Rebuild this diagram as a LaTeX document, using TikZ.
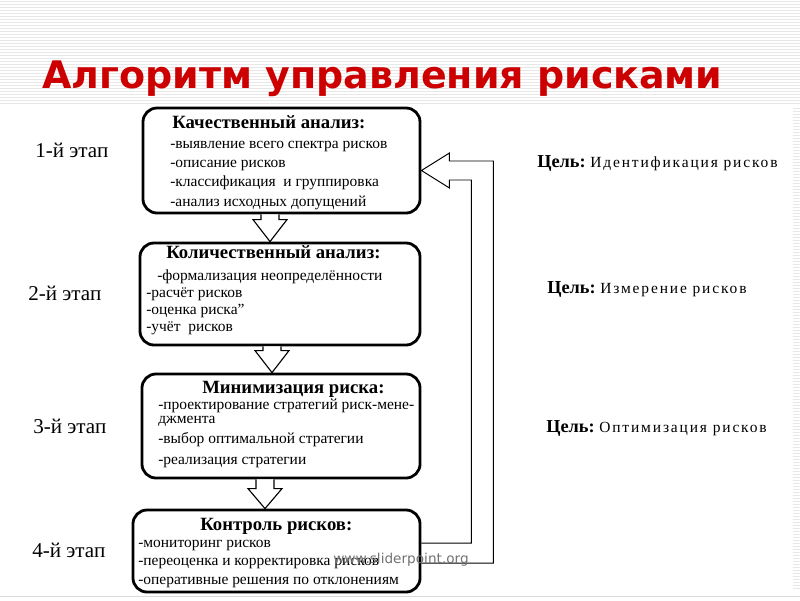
\documentclass[tikz,border=0pt]{standalone}
\usepackage{fontspec}
\setmainfont{Liberation Serif}
\newfontfamily\titlefont{DejaVu Sans}
\newfontfamily\goalfont[LetterSpace=12]{Liberation Serif}
\newfontfamily\wmfont{DejaVu Sans}
\usetikzlibrary{calc}
\definecolor{titlered}{RGB}{204,0,0}

\tikzset{
  stagebox/.style={draw, line width=2pt, rounded corners=10pt, inner sep=0pt},
  boxhead/.style={font=\bfseries\fontsize{13.3}{15}\selectfont, anchor=base west, inner sep=0pt},
  boxitem/.style={font=\fontsize{11}{12}\selectfont, anchor=base west, inner sep=0pt},
  stagelabel/.style={font=\fontsize{15}{17}\selectfont, anchor=base west, inner sep=0pt},
  goal/.style={anchor=base west, inner sep=0pt},
  blockarr/.style={draw, fill=white, line width=0.8pt},
  fbarr/.style={draw, line width=0.7pt},
  stripe/.style={gray!18, line width=0.7pt}
}

\begin{document}
\begin{tikzpicture}[x=0.025cm, y=-0.025cm]
\useasboundingbox (0,0) rectangle (800,600);
\fill[white] (0,0) rectangle (800,600);
\foreach \y in {1,4,...,103}
    \draw[stripe] (0,\y) -- (800,\y);
\foreach \y in {108,111,...,590}
    \draw[stripe] (793,\y) -- (800,\y);
\draw[gray!30] (0,596) -- (800,596);

\node[anchor=base west, inner sep=0pt, text=titlered, font=\titlefont\bfseries\fontsize{27}{31}\selectfont] (title) at (42,88) {Алгоритм управления рисками};

\node[stagebox, minimum width=6.925cm, minimum height=2.625cm] (qual) at (281.5,160.5) {};
\node[stagebox, minimum width=7cm, minimum height=2.55cm] (quant) at (280,294) {};
\node[stagebox, minimum width=6.95cm, minimum height=2.6cm] (minim) at (281,426) {};
\node[stagebox, minimum width=7.175cm, minimum height=2.05cm] (ctrl) at (276.5,551) {};

\node[boxhead] (qualh) at (172,128) {Качественный анализ:};
\node[boxitem] (qual1) at (170,148) {-выявление всего спектра рисков};
\node[boxitem] (qual2) at (170,167) {-описание рисков};
\node[boxitem] (qual3) at (170,186) {-классификация \ и группировка};
\node[boxitem] (qual4) at (170,206) {-анализ исходных допущений};

\node[boxhead] (quanth) at (166,258) {Количественный анализ:};
\node[boxitem] (quant1) at (157,280) {-формализация неопределённости};
\node[boxitem] (quant2) at (146,297) {-расчёт рисков};
\node[boxitem] (quant3) at (146,314) {-оценка риска”};
\node[boxitem] (quant4) at (146,331) {-учёт \ рисков};

\node[boxhead] (minimh) at (202,393) {Минимизация риска:};
\node[boxitem] (minim1) at (158,409) {-проектирование стратегий риск-мене-};
\node[boxitem] (minim2) at (158,423) {джмента};
\node[boxitem] (minim3) at (158,443) {-выбор оптимальной стратегии};
\node[boxitem] (minim4) at (158,464) {-реализация стратегии};

\node[boxhead] (ctrlh) at (200,530) {Контроль рисков:};
\node[boxitem] (ctrl1) at (138,547) {-мониторинг рисков};
\node[boxitem] (ctrl2) at (138,565) {-переоценка и корректировка рисков};
\node[boxitem] (ctrl3) at (138,584) {-оперативные решения по отклонениям};

\node[stagelabel] (st1) at (35,157) {1-й этап};
\node[stagelabel] (st2) at (28,300) {2-й этап};
\node[stagelabel] (st3) at (33,433) {3-й этап};
\node[stagelabel] (st4) at (32,557) {4-й этап};

\node[goal] (g1) at (537,167) {{\bfseries\fontsize{13}{15}\selectfont Цель:} {\goalfont\fontsize{11}{13}\selectfont Идентификация рисков}};
\node[goal] (g2) at (547,293) {{\bfseries\fontsize{13}{15}\selectfont Цель:} {\goalfont\fontsize{11}{13}\selectfont Измерение рисков}};
\node[goal] (g3) at (546,432) {{\bfseries\fontsize{13}{15}\selectfont Цель:} {\goalfont\fontsize{11}{13}\selectfont Оптимизация рисков}};

\foreach \a/\b/\dx/\hl in {qual/quant/-11.5/22, quant/minim/-8/22, minim/ctrl/-16/20} {
    \coordinate (at) at ($(\a.south)+(\dx,0)$);
    \coordinate (ab) at (at |- \b.north);
    \draw[blockarr] ($(at)+(-9,0)$) -- ($(ab)+(-9,-\hl)$) -- ($(ab)+(-17,-\hl)$) -- (ab)
        -- ($(ab)+(17,-\hl)$) -- ($(ab)+(9,-\hl)$) -- ($(at)+(9,0)$);
}

\coordinate (fbtip) at ($(qual.east)+(0,10)$);
\draw[fbarr] ($(ctrl.east)+(0,12)$) -- ($(ctrl.east)+(72,12)$) -- ($(fbtip)+(72,-9.5)$)
    -- ($(fbtip)+(28,-9.5)$) -- ($(fbtip)+(28,-17.5)$) -- (fbtip) -- ($(fbtip)+(28,17.5)$)
    -- ($(fbtip)+(28,9.5)$) -- ($(fbtip)+(50,9.5)$) -- ($(ctrl.east)+(50,-8)$) -- ($(ctrl.east)+(0,-8)$);

\node[anchor=base west, inner sep=0pt, text=black!55, font=\wmfont\fontsize{9.7}{11}\selectfont] (wm) at (333,563) {www.sliderpoint.org};
\end{tikzpicture}
\end{document}
